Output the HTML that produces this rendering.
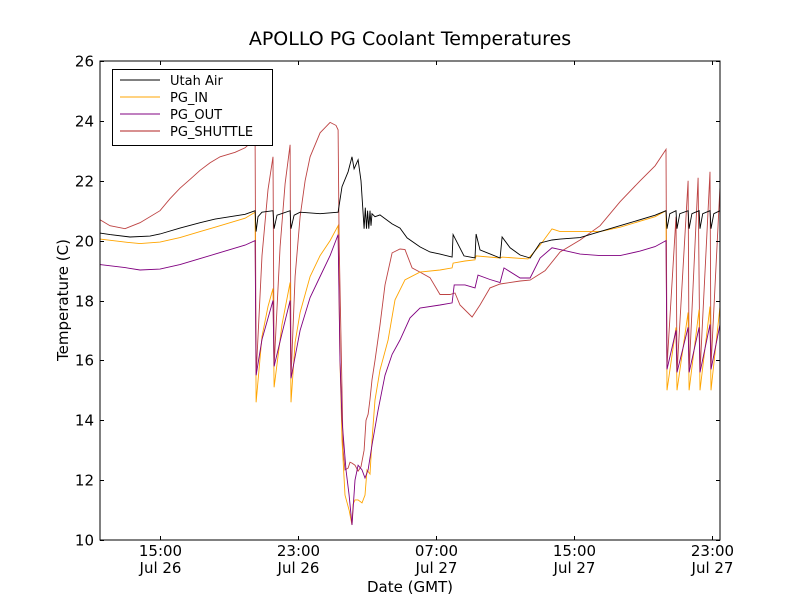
<!DOCTYPE html>
<html><head><meta charset="utf-8"><style>
html,body{margin:0;padding:0;background:#fff}
svg{display:block;font-family:"DejaVu Sans","Liberation Sans",sans-serif}
</style></head><body>
<svg id="chart" width="800" height="600" viewBox="0 0 800 600">
<rect x="0" y="0" width="800" height="600" fill="#fff"/>
<text x="410" y="45" font-size="19" text-anchor="middle">APOLLO PG Coolant Temperatures</text>
<text x="410" y="592" font-size="15" text-anchor="middle">Date (GMT)</text>
<text x="0" y="0" font-size="15" text-anchor="middle" transform="translate(68,300) rotate(-90)">Temperature (C)</text>
<g id="series"></g>
<g id="axes"></g>
<g id="legend"></g>
</svg>
<script>
// hours since Jul 26 00:00 GMT
const xTickHours = [15, 23, 31, 39, 47];
const xTickTimes = ["15:00", "23:00", "07:00", "15:00", "23:00"];
const xTickDates = ["Jul 26", "Jul 26", "Jul 27", "Jul 27", "Jul 27"];
const yTicks = [10, 12, 14, 16, 18, 20, 22, 24, 26];
const seriesNames = ["Utah Air", "PG_IN", "PG_OUT", "PG_SHUTTLE"];

const utahAirT = [11.52,12.10,13.26,14.42,15.00,16.16,17.32,18.19,19.06,19.93,20.51,20.57,20.68,20.91,21.55,21.61,21.78,22.54,22.59,22.77,23.12,24.28,25.32,25.55,25.90,26.13,26.25,26.48,26.65,26.83,26.90,26.97,27.03,27.10,27.17,27.23,27.29,27.46,27.75,28.45,28.91,29.32,30.07,30.65,31.23,31.93,31.99,32.62,33.26,33.32,33.55,34.71,34.83,35.29,35.87,36.45,37.03,37.72,38.19,39.35,40.51,42.25,43.70,44.33,44.39,44.55,44.91,44.97,45.13,45.61,45.67,45.83,46.25,46.30,46.46,46.88,46.94,47.10,47.46];
const utahAirV = [20.25,20.2,20.12,20.15,20.22,20.42,20.6,20.72,20.8,20.88,21.0,20.3,20.8,20.95,21.0,20.4,20.85,21.0,20.4,20.85,20.95,20.9,20.95,21.8,22.3,22.8,22.4,22.7,22.0,20.4,21.1,20.4,21.0,20.4,21.0,20.5,20.9,20.8,20.86,20.56,20.42,20.09,19.79,19.62,19.55,19.45,20.2,19.49,19.42,20.22,19.69,19.42,20.12,19.76,19.52,19.42,19.92,20.02,20.05,20.1,20.3,20.6,20.85,21.0,20.4,20.9,21.0,20.4,20.9,21.0,20.4,20.9,21.0,20.4,20.9,21.0,20.4,20.9,21.0];

const pgInT = [11.52,12.97,13.84,15.00,16.16,17.32,18.19,19.06,19.93,20.51,20.57,20.91,21.26,21.55,21.61,22.07,22.54,22.59,22.83,23.12,23.70,24.28,24.86,25.32,25.43,25.55,25.72,25.96,26.13,26.19,26.30,26.48,26.71,26.88,27.00,27.17,27.29,27.46,27.75,28.22,28.62,29.20,30.07,31.23,31.93,31.99,32.68,33.26,33.32,34.71,34.83,36.33,37.03,37.72,38.19,39.35,40.51,41.67,42.83,43.70,44.33,44.39,44.91,44.97,45.61,45.67,46.25,46.30,46.88,46.94,47.46];
const pgInV = [20.05,19.95,19.9,19.95,20.1,20.3,20.45,20.6,20.75,20.95,14.6,16.8,17.8,18.4,15.1,17.2,18.6,14.6,16.6,17.6,18.8,19.5,20.0,20.5,16.0,13.34,11.5,11.0,10.5,11.2,11.34,11.34,11.24,11.5,12.34,12.2,13.34,14.68,15.68,16.68,18.02,18.69,18.95,19.02,19.09,19.25,19.32,19.36,19.49,19.42,19.45,19.39,19.85,20.39,20.3,20.3,20.3,20.45,20.65,20.8,21.0,15.0,17.1,15.0,17.6,15.0,17.7,15.0,17.8,15.0,17.8];

const pgOutT = [11.52,12.97,13.84,15.00,16.16,17.32,18.19,19.06,19.93,20.51,20.57,20.91,21.55,21.61,22.07,22.54,22.59,23.12,23.70,24.28,24.86,25.32,25.43,25.55,25.78,25.96,26.13,26.30,26.48,26.71,26.88,27.06,27.29,27.64,28.04,28.45,28.91,29.49,30.07,31.23,31.93,32.05,32.68,33.26,33.43,34.13,34.71,34.94,35.87,36.45,37.03,37.72,38.19,39.35,40.51,41.67,42.83,43.70,44.33,44.39,44.91,44.97,45.61,45.67,46.25,46.30,46.88,46.94,47.46];
const pgOutV = [19.2,19.1,19.02,19.05,19.2,19.4,19.55,19.7,19.85,20.0,15.5,16.7,18.0,15.8,16.9,18.0,15.4,17.0,18.1,18.8,19.5,20.2,16.0,14.0,12.34,11.5,10.5,12.0,12.5,12.34,12.07,12.34,13.17,14.34,15.5,16.2,16.68,17.42,17.75,17.85,17.92,18.52,18.52,18.42,18.85,18.7,18.6,19.09,18.75,18.75,19.42,19.76,19.7,19.55,19.5,19.5,19.65,19.8,20.0,15.7,17.0,15.6,17.1,15.6,17.1,15.6,17.2,15.7,17.2];

const shuttleT = [11.52,12.10,12.97,13.84,15.00,15.58,16.16,16.74,17.32,17.90,18.48,19.35,19.93,20.51,20.57,20.91,21.26,21.55,21.61,21.96,22.25,22.54,22.59,22.83,23.12,23.41,23.70,24.28,24.86,25.20,25.32,25.38,25.55,25.61,25.72,25.90,26.01,26.13,26.30,26.48,26.65,26.83,26.94,27.06,27.17,27.29,27.46,27.75,28.04,28.45,28.91,29.20,29.61,30.07,30.65,31.23,31.81,32.10,32.39,33.09,33.55,34.13,34.71,35.87,36.45,37.32,38.19,39.35,40.51,41.67,42.83,43.70,44.28,44.33,44.39,44.91,44.97,45.61,45.67,46.19,46.30,46.88,46.94,47.46];
const shuttleV = [20.7,20.5,20.4,20.6,21.0,21.4,21.75,22.05,22.35,22.6,22.8,22.95,23.1,23.4,15.5,19.5,21.7,22.8,15.8,19.8,21.9,23.2,15.4,18.8,20.8,22.0,22.8,23.6,23.95,23.85,23.7,20.0,15.0,13.0,12.34,12.4,12.6,12.57,12.5,12.3,12.45,13.0,14.0,14.2,14.7,15.35,16.0,17.18,18.52,19.59,19.72,19.7,19.09,18.95,18.76,18.2,18.2,18.25,17.85,17.45,17.85,18.42,18.55,18.65,18.68,19.0,19.62,20.02,20.5,21.3,22.0,22.5,23.0,23.05,15.8,20.8,15.6,22.0,15.6,22.1,15.6,22.3,15.8,21.8];

const X0 = 100, X1 = 720, Y0 = 540, Y1 = 61;
const tMin = 11.52, tMax = 47.46, vMin = 10, vMax = 26;
function xScale(t){ return X0 + (t - tMin) / (tMax - tMin) * (X1 - X0); }
function yScale(v){ return Y0 - (v - vMin) / (vMax - vMin) * (Y0 - Y1); }

const NS = "http://www.w3.org/2000/svg";
const colors = ["#000000", "#ffa500", "#800080", "#b22222"];
const seriesT = [utahAirT, pgInT, pgOutT, shuttleT];
const seriesV = [utahAirV, pgInV, pgOutV, shuttleV];
const seriesKeys = ["utah-air", "pg-in", "pg-out", "pg-shuttle"];
const sg = document.getElementById("series");
const drawOrder = [3, 1, 2, 0];
drawOrder.forEach(function(i){
  const pts = seriesT[i].map(function(t, k){ return xScale(t).toFixed(1) + "," + yScale(seriesV[i][k]).toFixed(1); }).join(" ");
  const pl = document.createElementNS(NS, "polyline");
  pl.setAttribute("points", pts);
  pl.setAttribute("fill", "none");
  pl.setAttribute("stroke", colors[i]);
  pl.setAttribute("stroke-width", "0.9");
  pl.setAttribute("stroke-opacity", i === 3 ? "0.85" : "1");
  
  
  sg.appendChild(pl);
});

const ag = document.getElementById("axes");
const frame = document.createElementNS(NS, "rect");
frame.setAttribute("x", X0); frame.setAttribute("y", Y1);
frame.setAttribute("width", X1 - X0); frame.setAttribute("height", Y0 - Y1);
frame.setAttribute("fill", "none"); frame.setAttribute("stroke", "#000"); frame.setAttribute("stroke-width", "1");


ag.appendChild(frame);

function line(x1,y1,x2,y2,name){
  const l = document.createElementNS(NS, "line");
  l.setAttribute("x1", x1); l.setAttribute("y1", y1); l.setAttribute("x2", x2); l.setAttribute("y2", y2);
  l.setAttribute("stroke", "#000"); l.setAttribute("stroke-width", "1");
  
  
  ag.appendChild(l);
}
function text(x,y,s,anchor,name){
  const t = document.createElementNS(NS, "text");
  t.setAttribute("x", x); t.setAttribute("y", y); t.setAttribute("font-size", "15");
  t.setAttribute("text-anchor", anchor);
  t.textContent = s;
  
  
  ag.appendChild(t);
}
yTicks.forEach(function(v){
  const y = Math.round(yScale(v)) + 0.5;
  line(X0, y, X0 + 4, y, "y-tick");
  line(X1, y, X1 - 4, y, "y-tick-right");
  text(X0 - 6, y + 5, String(v), "end", "y-tick-label");
});
xTickHours.forEach(function(h, i){
  const x = Math.round(xScale(h)) + 0.5;
  line(x, Y0, x, Y0 - 4, "x-tick");
  line(x, Y1, x, Y1 + 4, "x-tick-top");
  text(x, 556, xTickTimes[i], "middle", "x-tick-label");
  text(x, 573, xTickDates[i], "middle", "x-tick-date-label");
});

const lg = document.getElementById("legend");
const box = document.createElementNS(NS, "rect");
box.setAttribute("x", 112.5); box.setAttribute("y", 69.5); box.setAttribute("width", 160); box.setAttribute("height", 76);
box.setAttribute("fill", "#fff"); box.setAttribute("stroke", "#000"); box.setAttribute("stroke-width", "1");


lg.appendChild(box);
seriesNames.forEach(function(n, i){
  const y = 80 + i * 17;
  const l = document.createElementNS(NS, "line");
  l.setAttribute("x1", 120); l.setAttribute("x2", 160); l.setAttribute("y1", y); l.setAttribute("y2", y);
  l.setAttribute("stroke", colors[i]); l.setAttribute("stroke-width", "1");
  
  
  lg.appendChild(l);
  const t = document.createElementNS(NS, "text");
  t.setAttribute("x", 170); t.setAttribute("y", y + 5); t.setAttribute("font-size", "13");
  t.textContent = n;
  
  
  lg.appendChild(t);
});
</script>
</body></html>
